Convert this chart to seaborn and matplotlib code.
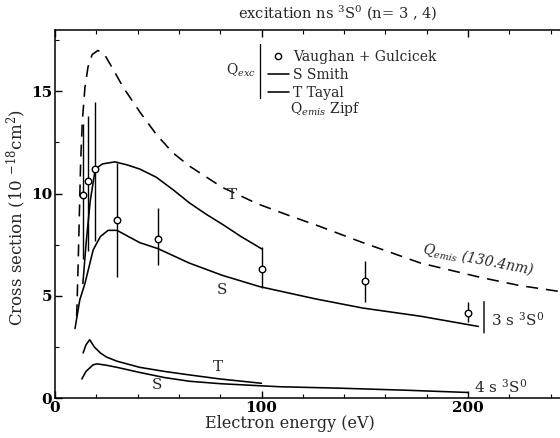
import numpy as np
import pandas as pd
import seaborn as sns
import matplotlib
matplotlib.use("Agg")
import matplotlib.pyplot as plt
from matplotlib.lines import Line2D
from matplotlib.ticker import MultipleLocator

# ---------------- data ----------------
# Q_emis (130.4 nm), Zipf  (dashed)
emis_E = [10.5, 11.2, 11.8, 12.4, 13.2, 14.5, 16, 18, 20.8, 24, 28, 33, 41, 49, 57, 65, 81, 89.6, 98, 114, 128, 149, 177, 206, 225, 245]
emis_Q = [4.0, 6.5, 9.0, 11.5, 13.5, 15.2, 16.2, 16.8, 17.0, 16.8, 16.1, 15.2, 14.0, 12.9, 12.0, 11.35, 10.3, 9.9, 9.5, 8.9, 8.4, 7.6, 6.6, 5.9, 5.5, 5.2]

# 3s 3S0, Tayal (T)
t3_E = [13.5, 15, 17, 19.5, 23, 29, 35, 41, 49, 57, 65, 73, 81, 90, 100]
t3_Q = [5.6, 7.5, 9.6, 11.2, 11.45, 11.55, 11.4, 11.2, 10.8, 10.2, 9.55, 9.0, 8.5, 7.9, 7.3]

# 3s 3S0, Smith (S)
s3_E = [9.7, 12, 14.5, 18.5, 22, 25.7, 30, 41, 50, 65, 81, 99, 126, 149, 177, 205]
s3_Q = [3.4, 4.8, 5.6, 7.25, 7.9, 8.2, 8.2, 7.6, 7.3, 6.6, 6.0, 5.45, 4.85, 4.4, 4.0, 3.5]

# 4s 3S0, Tayal (T)
t4_E = [13.6, 15, 16.8, 19, 22, 25, 30, 41, 53, 65, 80, 100]
t4_Q = [2.2, 2.6, 2.85, 2.5, 2.2, 2.0, 1.8, 1.5, 1.3, 1.13, 0.93, 0.72]

# 4s 3S0, Smith (S)
s4_E = [13, 15, 18.4, 20.3, 25, 30, 41, 53, 65, 80, 99, 109, 138, 170, 200]
s4_Q = [0.93, 1.3, 1.62, 1.67, 1.6, 1.5, 1.25, 1.0, 0.82, 0.7, 0.6, 0.55, 0.48, 0.38, 0.27]

# Vaughan + Gulcicek measurements
vg_E = [13.4, 16, 19.4, 30, 50, 100, 150, 200]
vg_Q = [9.95, 10.6, 11.2, 8.7, 7.8, 6.3, 5.7, 4.15]
vg_lo = [6.8, 7.2, 7.7, 5.9, 6.5, 5.4, 4.7, 3.7]
vg_hi = [13.4, 13.8, 14.5, 11.5, 9.3, 7.4, 6.7, 4.7]

x_ticks = [0, 100, 200]
y_ticks = [0, 5, 10, 15]

# ---------------- style ----------------
sns.set_theme(style="ticks")
plt.rcParams['font.family'] = ['DejaVu Serif']
plt.rcParams['mathtext.fontset'] = 'dejavuserif'

W, H = 560, 438
fig = plt.figure(figsize=(W / 100, H / 100), dpi=100)
fig.patch.set_facecolor('white')
ax = fig.add_axes([55 / W, 40 / H, 505 / W, 368 / H])
ax.set_facecolor('white')

lw = 1.15
def curve(E, Q, **kw):
    df = pd.DataFrame({'E': E, 'Q': Q})
    sns.lineplot(data=df, x='E', y='Q', ax=ax, color='black', lw=lw, sort=False,
                 estimator=None, legend=False, **kw)

curve(emis_E, emis_Q, linestyle=(0, (7.5, 5)))
curve(t3_E, t3_Q)
curve(s3_E, s3_Q)
curve(t4_E, t4_Q)
curve(s4_E, s4_Q)

vg_Q_arr = np.array(vg_Q)
yerr = [vg_Q_arr - np.array(vg_lo), np.array(vg_hi) - vg_Q_arr]
ax.errorbar(vg_E, vg_Q, yerr=yerr, fmt='none', ecolor='black', elinewidth=1.0, capsize=0)
sns.scatterplot(x=vg_E, y=vg_Q, ax=ax, marker='o', s=22, facecolor='white',
                edgecolor='black', linewidth=1.0, zorder=5, legend=False)

ax.set_xlim(0, 244.5)
ax.set_ylim(0, 18)
ax.set_xticks(x_ticks)
ax.set_yticks(y_ticks)
ax.xaxis.set_minor_locator(MultipleLocator(20))
ax.yaxis.set_minor_locator(MultipleLocator(2.5))
ax.tick_params(which='both', direction='in', top=True, right=False, colors='black')
ax.tick_params(which='major', length=5, width=1, labelsize=11, pad=2)
ax.tick_params(which='minor', length=3, width=0.8)
for lab in ax.get_xticklabels() + ax.get_yticklabels():
    lab.set_fontweight('bold')
ax.set_xlabel('')
ax.set_ylabel('')
for s in ['left', 'bottom', 'top']:
    ax.spines[s].set_color('black')
    ax.spines[s].set_linewidth(1.1)
ax.spines['right'].set_visible(False)

# ---------------- annotations ----------------
fs = 11
ax.text(85.7, 9.95, 'T', fontsize=fs, ha='center', va='center')
ax.text(80.9, 5.3, 'S', fontsize=fs, ha='center', va='center')
ax.text(79, 1.5, 'T', fontsize=fs, ha='center', va='center')
ax.text(49.4, 0.64, 'S', fontsize=fs, ha='center', va='center')
ax.text(203, 0.55, r'4 s $^{3}$S$^{0}$', fontsize=fs, ha='left', va='center')
ax.text(211, 3.85, r'3 s $^{3}$S$^{0}$', fontsize=fs, ha='left', va='center')
ax.annotate('', xy=(207.7, 3.05), xytext=(207.7, 4.85),
            arrowprops=dict(arrowstyle='-', color='black', lw=1.0))
ax.text(205, 6.8, r'Q$_{emis}$ (130.4nm)', fontsize=10, ha='center', va='center',
        rotation=-11, fontstyle='italic')

# legend block
handles = [Line2D([], [], marker='o', ls='none', mfc='white', mec='black', ms=4.5, mew=1.0),
           Line2D([], [], color='black', lw=lw),
           Line2D([], [], color='black', lw=lw)]
labels = ['Vaughan + Gulcicek', 'S Smith', 'T Tayal']
leg = fig.legend(handles, labels, loc='upper left', bbox_to_anchor=(258 / W, 1 - 40 / H),
                 frameon=False, fontsize=10, handlelength=1.5, handletextpad=0.3,
                 labelspacing=0.3, borderpad=0.2)
fig.text(256 / W, 1 - 70 / H, r'Q$_{exc}$', fontsize=10, ha='right', va='center')
fig.add_artist(Line2D([260 / W, 260 / W], [1 - 44 / H, 1 - 98 / H], color='black', lw=0.9))
fig.text(290 / W, 1 - 109 / H, r'Q$_{emis}$ Zipf', fontsize=10, ha='left', va='center')

# titles and axis labels
fig.text(338 / W, 1 - 13 / H, r'excitation ns $^{3}$S$^{0}$ (n= 3 , 4)', fontsize=10.5,
         ha='center', va='center')
fig.text(290 / W, 1 - 424 / H, 'Electron energy (eV)', fontsize=11.5, ha='center', va='center')
fig.text(16 / W, 1 - 217 / H, r'Cross section (10 $^{-18}$cm$^{2}$)', fontsize=12,
         ha='center', va='center', rotation=90)

fig.savefig('out.png', dpi=100, facecolor='white')
